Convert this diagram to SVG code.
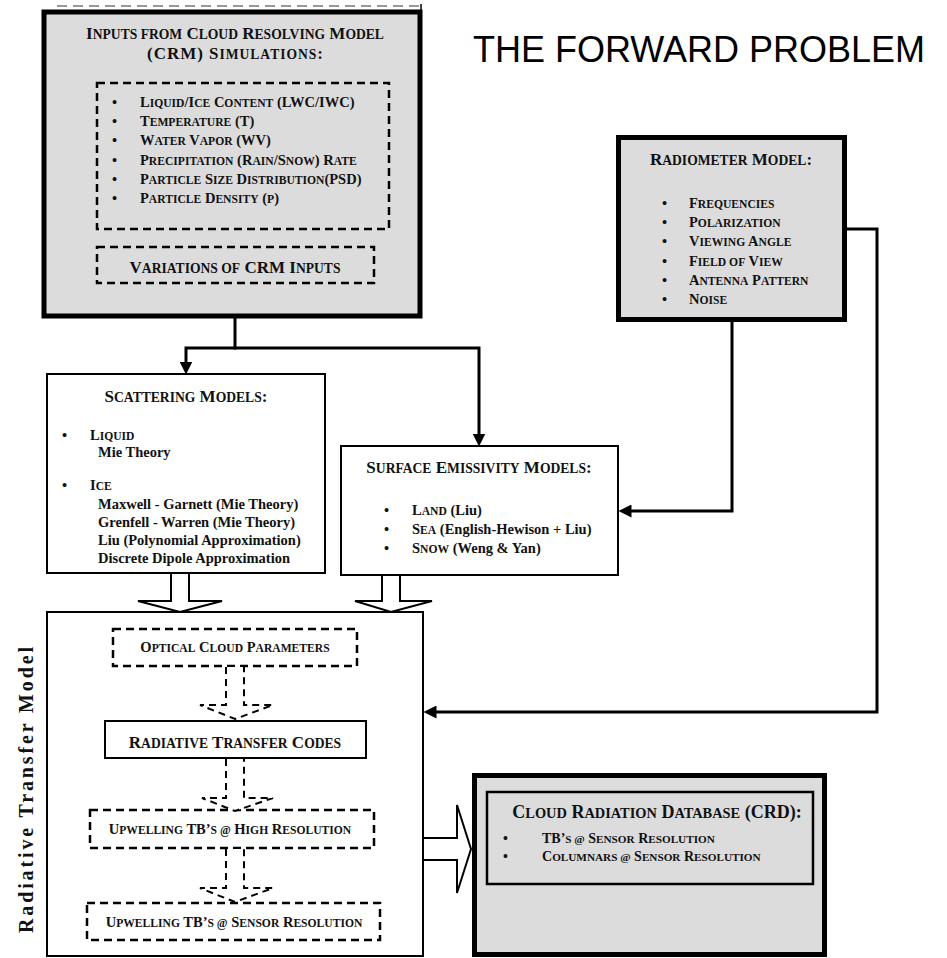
<svg xmlns="http://www.w3.org/2000/svg" width="947" height="958" viewBox="0 0 947 958">
<style>
  .t { font-family: "Liberation Serif", "Times New Roman", serif; font-weight: bold; fill: #111; }
  .h { font-size: 17px; }
  .b { font-size: 14.5px; }
  .c { font-size: 14px; }
  .s { font-size: 0.8em; }
  .mid { text-anchor: middle; }
  .gray { fill: #dcdcdc; stroke: #000; }
  .thick { stroke-width: 5; }
  .thin { fill: #fff; stroke: #000; stroke-width: 2; }
  .dash { fill: none; stroke: #000; stroke-width: 2.5; stroke-dasharray: 8 5; }
  .conn { fill: none; stroke: #000; stroke-width: 3; }
  .hollow { fill: #fff; stroke: #000; stroke-width: 2; stroke-linejoin: miter; }
  .hdash { fill: #fff; stroke: #000; stroke-width: 2; stroke-dasharray: 7 5; }
</style>
<defs>
  <marker id="ah" markerUnits="userSpaceOnUse" markerWidth="13" markerHeight="13" refX="6" refY="6" orient="auto" viewBox="0 0 12 12">
    <path d="M0,0 L12,6 L0,12 z" fill="#000"/>
  </marker>
</defs>
<rect width="947" height="958" fill="#fff"/>

<g id="title">
  <text x="473" y="62" font-family="Liberation Sans, Arial, sans-serif" font-size="36" fill="#000">THE FORWARD PROBLEM</text>
</g>

<g id="node-crm-inputs">
  <line x1="57" y1="6" x2="420" y2="6" stroke="#999" stroke-width="2" stroke-dasharray="10 6"/>
  <line x1="421" y1="4" x2="421" y2="14" stroke="#000" stroke-width="1.5"/>
  <rect x="44" y="12" width="376" height="304" class="gray thick"/>
  <text class="t h mid" x="235" y="39">I<tspan class="s">NPUTS FROM</tspan> C<tspan class="s">LOUD</tspan> R<tspan class="s">ESOLVING</tspan> M<tspan class="s">ODEL</tspan></text>
  <text class="t h mid" x="235" y="59" textLength="176" lengthAdjust="spacing">(CRM) S<tspan class="s">IMULATIONS</tspan>:</text>
  <rect x="97" y="83" width="292" height="146" class="dash"/>
  <g class="t b">
    <text x="112" y="107">•</text><text x="140" y="107">L<tspan class="s">IQUID</tspan>/I<tspan class="s">CE</tspan> C<tspan class="s">ONTENT</tspan> (LWC/IWC)</text>
    <text x="112" y="126.2">•</text><text x="140" y="126.2">T<tspan class="s">EMPERATURE</tspan> (T)</text>
    <text x="112" y="145.4">•</text><text x="140" y="145.4">W<tspan class="s">ATER</tspan> V<tspan class="s">APOR</tspan> (WV)</text>
    <text x="112" y="164.6">•</text><text x="140" y="164.6">P<tspan class="s">RECIPITATION</tspan> (R<tspan class="s">AIN</tspan>/S<tspan class="s">NOW</tspan>) R<tspan class="s">ATE</tspan></text>
    <text x="112" y="183.8">•</text><text x="140" y="183.8">P<tspan class="s">ARTICLE</tspan> S<tspan class="s">IZE</tspan> D<tspan class="s">ISTRIBUTION</tspan>(PSD)</text>
    <text x="112" y="203">•</text><text x="140" y="203">P<tspan class="s">ARTICLE</tspan> D<tspan class="s">ENSITY</tspan> (<tspan class="s">P</tspan>)</text>
  </g>
  <rect x="97" y="247" width="277" height="36" class="dash"/>
  <text class="t h mid" x="235" y="273">V<tspan class="s">ARIATIONS OF</tspan> CRM I<tspan class="s">NPUTS</tspan></text>
</g>

<g id="node-radiometer">
  <rect x="618.5" y="137.5" width="226" height="182" class="gray thick"/>
  <text class="t h mid" x="731" y="165">R<tspan class="s">ADIOMETER</tspan> M<tspan class="s">ODEL</tspan>:</text>
  <g class="t b">
    <text x="662" y="208">•</text><text x="689" y="208">F<tspan class="s">REQUENCIES</tspan></text>
    <text x="662" y="227.2">•</text><text x="689" y="227.2">P<tspan class="s">OLARIZATION</tspan></text>
    <text x="662" y="246.4">•</text><text x="689" y="246.4">V<tspan class="s">IEWING</tspan> A<tspan class="s">NGLE</tspan></text>
    <text x="662" y="265.6">•</text><text x="689" y="265.6">F<tspan class="s">IELD OF</tspan> V<tspan class="s">IEW</tspan></text>
    <text x="662" y="284.8">•</text><text x="689" y="284.8">A<tspan class="s">NTENNA</tspan> P<tspan class="s">ATTERN</tspan></text>
    <text x="662" y="304">•</text><text x="689" y="304">N<tspan class="s">OISE</tspan></text>
  </g>
</g>

<g id="node-scattering">
  <rect x="47" y="374" width="278" height="199" class="thin"/>
  <text class="t h mid" x="186" y="402">S<tspan class="s">CATTERING</tspan> M<tspan class="s">ODELS</tspan>:</text>
  <g class="t b">
    <text x="62" y="440">•</text><text x="90" y="440">L<tspan class="s">IQUID</tspan></text>
    <text x="98" y="457">Mie Theory</text>
    <text x="62" y="490">•</text><text x="90" y="490">I<tspan class="s">CE</tspan></text>
    <text x="98" y="509">Maxwell - Garnett (Mie Theory)</text>
    <text x="98" y="527">Grenfell - Warren (Mie Theory)</text>
    <text x="98" y="545">Liu (Polynomial Approximation)</text>
    <text x="98" y="563">Discrete Dipole Approximation</text>
  </g>
</g>

<g id="node-surface">
  <rect x="341" y="446" width="277" height="129" class="thin"/>
  <text class="t h mid" x="479" y="473">S<tspan class="s">URFACE</tspan> E<tspan class="s">MISSIVITY</tspan> M<tspan class="s">ODELS</tspan>:</text>
  <g class="t b">
    <text x="384" y="515">•</text><text x="412" y="515">L<tspan class="s">AND</tspan> (Liu)</text>
    <text x="384" y="534">•</text><text x="412" y="534">S<tspan class="s">EA</tspan> (English-Hewison + Liu)</text>
    <text x="384" y="553">•</text><text x="412" y="553">S<tspan class="s">NOW</tspan> (Weng &amp; Yan)</text>
  </g>
</g>

<g id="node-rtm">
  <rect x="47" y="612" width="376" height="344" class="thin"/>
  <text class="t" x="33" y="790" font-size="20" text-anchor="middle" textLength="286" lengthAdjust="spacing" transform="rotate(-90 33 790)">Radiative Transfer Model</text>
  <g id="rtm-optical">
    <rect x="113" y="629" width="244" height="37" class="dash"/>
    <text class="t b mid" x="235" y="652">O<tspan class="s">PTICAL</tspan> C<tspan class="s">LOUD</tspan> P<tspan class="s">ARAMETERS</tspan></text>
  </g>
  <g id="rtm-codes">
    <rect x="105" y="721" width="261" height="37" class="thin"/>
    <text class="t h mid" x="235" y="748">R<tspan class="s">ADIATIVE</tspan> T<tspan class="s">RANSFER</tspan> C<tspan class="s">ODES</tspan></text>
  </g>
  <g id="rtm-high">
    <rect x="90" y="810" width="284" height="38" class="dash"/>
    <text class="t b mid" x="230" y="834">U<tspan class="s">PWELLING</tspan> TB’<tspan class="s">S @</tspan> H<tspan class="s">IGH</tspan> R<tspan class="s">ESOLUTION</tspan></text>
  </g>
  <g id="rtm-sensor">
    <rect x="87" y="903" width="293" height="37" class="dash"/>
    <text class="t b mid" x="234" y="927">U<tspan class="s">PWELLING</tspan> TB’<tspan class="s">S @</tspan> S<tspan class="s">ENSOR</tspan> R<tspan class="s">ESOLUTION</tspan></text>
  </g>
</g>

<g id="node-crd">
  <rect x="474.5" y="775.5" width="350" height="179" class="gray thick"/>
  <rect x="487" y="792" width="326" height="92" class="gray" stroke-width="2.5"/>
  <text class="t mid" font-size="18" x="657" y="818">C<tspan class="s">LOUD</tspan> R<tspan class="s">ADIATION</tspan> D<tspan class="s">ATABASE</tspan> (CRD):</text>
  <g class="t c">
    <text x="503" y="843">•</text><text x="542" y="843">TB’<tspan class="s">S @</tspan> S<tspan class="s">ENSOR</tspan> R<tspan class="s">ESOLUTION</tspan></text>
    <text x="503" y="861">•</text><text x="542" y="861">C<tspan class="s">OLUMNARS @</tspan> S<tspan class="s">ENSOR</tspan> R<tspan class="s">ESOLUTION</tspan></text>
  </g>
</g>

<g id="connectors">
  <path class="conn" d="M235,318 V348"/>
  <path class="conn" d="M236.5,348 H186 V368" marker-end="url(#ah)"/>
  <path class="conn" d="M233.5,348 H479 V440" marker-end="url(#ah)"/>
  <path class="conn" d="M732,322 V511 H625" marker-end="url(#ah)"/>
  <path class="conn" d="M847,229 H877 V712 H430" marker-end="url(#ah)"/>
  <polyline class="hollow" points="171,574 171,601 138,601 180,612 222,601 189,601 189,574"/>
  <polyline class="hollow" points="382,576 382,601 355,601 391,612 432,601 400,601 400,576"/>
  <polyline class="hdash" points="226,667 226,705 200,705 235,719 273,705 244,705 244,667"/>
  <polyline class="hdash" points="226,759 226,798 202,798 235,811 273,798 244,798 244,759"/>
  <polyline class="hdash" points="226,849 226,888 200,888 235,902 273,888 244,888 244,849"/>
  <polyline class="hollow" points="424,838 457,838 457,805 471,849 457,893 457,860 424,860"/>
</g>
</svg>
